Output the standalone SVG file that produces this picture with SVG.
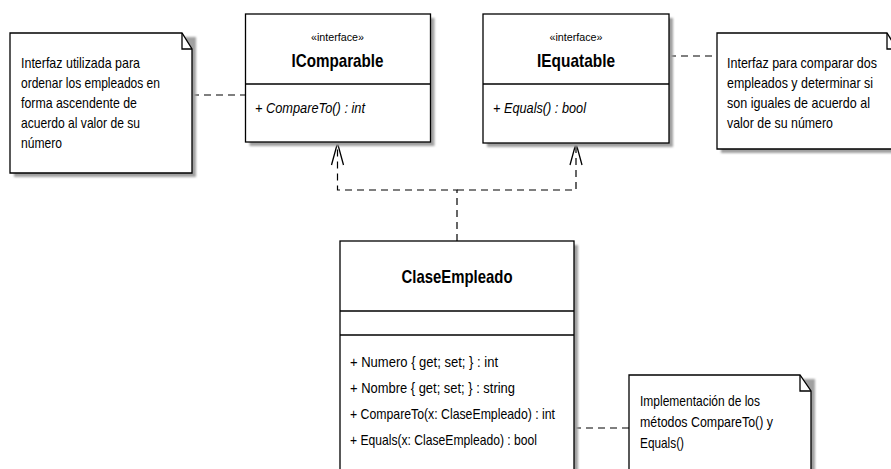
<svg xmlns="http://www.w3.org/2000/svg" width="891" height="469" viewBox="0 0 891 469">
  <style>
    .box { fill: #ffffff; stroke: #000000; stroke-width: 1.3; }
    .shadow { fill: #a0a0a0; filter: url(#soft); }
    .sep { stroke: #000000; stroke-width: 1.3; fill: none; }
    .dash { stroke: #000000; stroke-width: 1.2; fill: none; stroke-dasharray: 7 5; }
    .txt { font-family: "Liberation Sans", Arial, sans-serif; font-size: 15px; fill: #000000; }
    .ster { font-family: "Liberation Sans", Arial, sans-serif; font-size: 10.5px; fill: #000000; text-anchor: middle; }
    .title { font-family: "Liberation Sans", Arial, sans-serif; font-size: 19px; font-weight: bold; fill: #000000; text-anchor: middle; }
    .op { font-family: "Liberation Sans", Arial, sans-serif; font-size: 15px; font-style: italic; fill: #000000; }
  </style>
  <defs>
    <filter id="soft" x="-10%" y="-10%" width="120%" height="120%">
      <feGaussianBlur stdDeviation="0.8"/>
    </filter>
    <!-- open arrowhead for interface realization -->
    <marker id="realize" viewBox="-24 -8 26 16" markerWidth="26" markerHeight="16" refX="0" refY="0" markerUnits="userSpaceOnUse" orient="auto">
      <path d="M-22,-6 L0,0 L-22,6" fill="none" stroke="#000000" stroke-width="1.3" stroke-dasharray="none"/>
    </marker>
  </defs>
  <rect width="891" height="469" fill="#ffffff"/>

  <!-- connectors -->
  <g id="connectors">
    <path class="dash" d="M457,241 V190 H337.5 V143" marker-end="url(#realize)"/>
    <path class="dash" d="M457,190 H576 V143" marker-end="url(#realize)"/>
    <path class="dash" d="M192,95 H245"/>
    <path class="dash" d="M669,56 H717"/>
    <path class="dash" d="M574,428 H629"/>
  </g>

  <!-- note on IComparable -->
  <g id="note-comparable">
    <path class="shadow" d="M14,37 H196 V177 H14 Z"/>
    <path class="box" d="M10,33 H182 L192,49 V173 H10 Z"/>
    <path class="sep" d="M182,33 V49 H192"/>
    <text class="txt" x="21" y="68" textLength="119" lengthAdjust="spacingAndGlyphs">Interfaz utilizada para</text>
    <text class="txt" x="21" y="88" textLength="139" lengthAdjust="spacingAndGlyphs">ordenar los empleados en</text>
    <text class="txt" x="21" y="108" textLength="116" lengthAdjust="spacingAndGlyphs">forma ascendente de</text>
    <text class="txt" x="21" y="128" textLength="119" lengthAdjust="spacingAndGlyphs">acuerdo al valor de su</text>
    <text class="txt" x="21" y="148" textLength="41" lengthAdjust="spacingAndGlyphs">número</text>
  </g>

  <!-- IComparable interface -->
  <g id="IComparable">
    <rect class="shadow" x="249.5" y="18" width="185" height="128"/>
    <rect class="box" x="245.5" y="14" width="185" height="128"/>
    <line class="sep" x1="245.5" y1="84" x2="430.5" y2="84"/>
    <text class="ster" x="337.5" y="41" textLength="53" lengthAdjust="spacingAndGlyphs">«interface»</text>
    <text class="title" x="337.5" y="67" textLength="92" lengthAdjust="spacingAndGlyphs">IComparable</text>
    <text class="op" x="255" y="113" textLength="110" lengthAdjust="spacingAndGlyphs">+ CompareTo() : int</text>
  </g>

  <!-- IEquatable interface -->
  <g id="IEquatable">
    <rect class="shadow" x="487" y="18" width="186" height="129"/>
    <rect class="box" x="483" y="14" width="186" height="129"/>
    <line class="sep" x1="483" y1="84" x2="669" y2="84"/>
    <text class="ster" x="576" y="41" textLength="53" lengthAdjust="spacingAndGlyphs">«interface»</text>
    <text class="title" x="576" y="67" textLength="78" lengthAdjust="spacingAndGlyphs">IEquatable</text>
    <text class="op" x="493" y="113" textLength="93" lengthAdjust="spacingAndGlyphs">+ Equals() : bool</text>
  </g>

  <!-- note on IEquatable -->
  <g id="note-equatable">
    <path class="shadow" d="M721,37 H901 V153 H721 Z"/>
    <path class="box" d="M717,33 H887 L897,49 V149 H717 Z"/>
    <path class="sep" d="M887,33 V49 H897"/>
    <text class="txt" x="727" y="68" textLength="150" lengthAdjust="spacingAndGlyphs">Interfaz para comparar dos</text>
    <text class="txt" x="727" y="88" textLength="146" lengthAdjust="spacingAndGlyphs">empleados y determinar si</text>
    <text class="txt" x="727" y="108" textLength="143" lengthAdjust="spacingAndGlyphs">son iguales de acuerdo al</text>
    <text class="txt" x="727" y="128" textLength="106" lengthAdjust="spacingAndGlyphs">valor de su número</text>
  </g>

  <!-- ClaseEmpleado class -->
  <g id="ClaseEmpleado">
    <rect class="shadow" x="344" y="245" width="234" height="240"/>
    <rect class="box" x="340" y="241" width="234" height="240"/>
    <line class="sep" x1="340" y1="311" x2="574" y2="311"/>
    <line class="sep" x1="340" y1="335" x2="574" y2="335"/>
    <text class="title" x="457" y="283" textLength="111" lengthAdjust="spacingAndGlyphs">ClaseEmpleado</text>
    <text class="txt" x="350" y="367" textLength="148" lengthAdjust="spacingAndGlyphs">+ Numero { get; set; } : int</text>
    <text class="txt" x="350" y="393" textLength="165" lengthAdjust="spacingAndGlyphs">+ Nombre { get; set; } : string</text>
    <text class="txt" x="350" y="419" textLength="205" lengthAdjust="spacingAndGlyphs">+ CompareTo(x: ClaseEmpleado) : int</text>
    <text class="txt" x="350" y="445" textLength="187" lengthAdjust="spacingAndGlyphs">+ Equals(x: ClaseEmpleado) : bool</text>
  </g>

  <!-- note on ClaseEmpleado -->
  <g id="note-implementacion">
    <path class="shadow" d="M633,379 H815 V485 H633 Z"/>
    <path class="box" d="M629,375 H800 L811,391 V481 H629 Z"/>
    <path class="sep" d="M800,375 V391 H811"/>
    <text class="txt" x="640" y="406" textLength="120" lengthAdjust="spacingAndGlyphs">Implementación de los</text>
    <text class="txt" x="640" y="427" textLength="133" lengthAdjust="spacingAndGlyphs">métodos CompareTo() y</text>
    <text class="txt" x="640" y="448" textLength="44" lengthAdjust="spacingAndGlyphs">Equals()</text>
  </g>
</svg>
